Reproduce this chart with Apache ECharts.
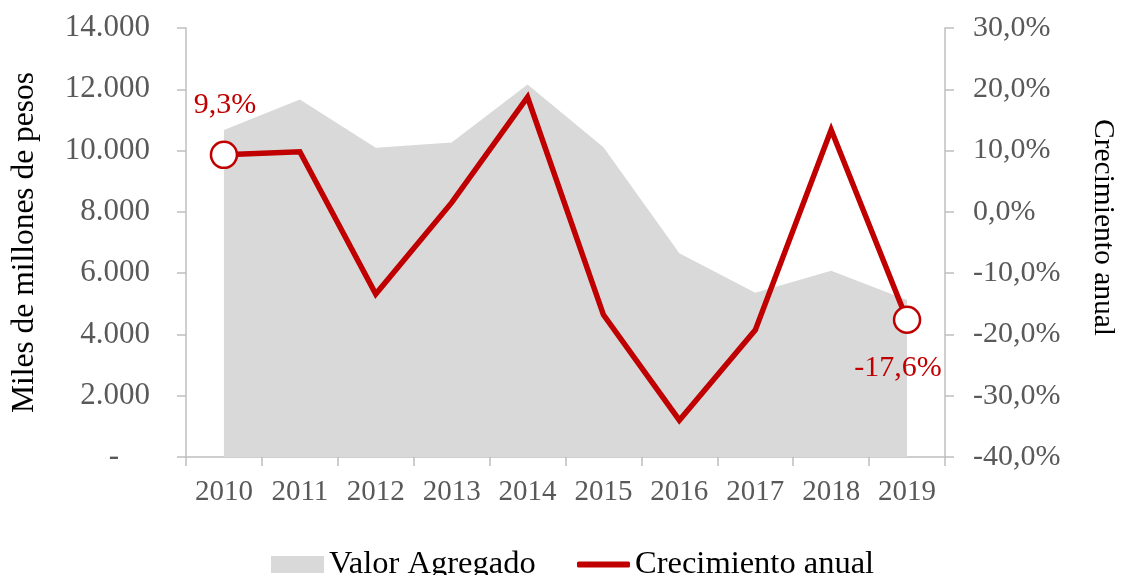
<!DOCTYPE html>
<html>
<head>
<meta charset="utf-8">
<script src="https://cdn.jsdelivr.net/npm/echarts@6/dist/echarts.min.js"></script>
<style>
html,body{margin:0;padding:0;background:#fff;}
#chart{width:1122px;height:575px;}
</style>
</head>
<body>
<div id="chart"></div>
<script>
var categories = ['2010','2011','2012','2013','2014','2015','2016','2017','2018','2019'];
var valorAgregado = [10670, 11670, 10090, 10260, 12160, 10110, 6650, 5360, 6080, 5120];
var crecimientoAnual = [9.3, 9.8, -13.4, 1.5, 18.7, -16.8, -34.0, -19.3, 13.4, -17.6];
var leftTicks = {min: 0, max: 14000, interval: 2000};
var rightTicks = {min: -40, max: 30, interval: 10};

var FONT = "'Liberation Serif', 'Times New Roman', serif";
var RED = '#c00000';
var AXIS = '#bfbfbf';
var LABEL = '#595959';

function pct(v){ return v.toFixed(1).replace('.', ',') + '%'; }
function thousands(v){
  if (v === 0) return '-\u2002\u2002';
  return String(v).replace(/\B(?=(\d{3})+(?!\d))/g, '.');
}

var lineData = crecimientoAnual.map(function(v, i){
  var last = crecimientoAnual.length - 1;
  if (i === 0 || i === last) {
    return {
      value: v,
      symbol: 'circle',
      symbolSize: 26,
      itemStyle: {color: '#ffffff', borderColor: RED, borderWidth: 2.5},
      label: {
        show: true,
        position: i === 0 ? 'top' : 'bottom',
        distance: i === 0 ? 20 : 19,
        offset: i === 0 ? [1, 0] : [-9, 0],
        formatter: function(p){ return pct(p.value); },
        color: RED, fontFamily: FONT, fontSize: 30
      }
    };
  }
  return {value: v, symbol: 'none', symbolSize: 0};
});

var chart = echarts.init(document.getElementById('chart'), null, {renderer: 'canvas'});
chart.setOption({
  animation: false,
  backgroundColor: '#ffffff',
  textStyle: {fontFamily: FONT},
  grid: {left: 186, right: 177, top: 28, bottom: 118, containLabel: false, outerBoundsMode: 'none'},
  legend: [
    {
      data: [{name: 'Valor Agregado', icon: 'rect', itemStyle: {color: '#d9d9d9'}}],
      left: 271, top: 548, itemWidth: 53, itemHeight: 17, padding: 0,
      textStyle: {fontFamily: FONT, fontSize: 32.5, color: '#000'}
    },
    {
      data: [{name: 'Crecimiento anual', icon: 'roundRect', itemStyle: {color: RED, borderWidth: 0}}],
      left: 577, top: 548, itemWidth: 53, itemHeight: 6, padding: 0,
      textStyle: {fontFamily: FONT, fontSize: 32.5, color: '#000'}
    }
  ],
  xAxis: {
    type: 'category',
    data: categories,
    boundaryGap: true,
    axisLine: {show: true, lineStyle: {color: AXIS, width: 1.5}},
    axisTick: {show: true, length: 9, interval: 0, lineStyle: {color: AXIS, width: 1.5}},
    axisLabel: {color: LABEL, fontFamily: FONT, fontSize: 29, margin: 21, interval: 0},
    splitLine: {show: false}
  },
  yAxis: [
    {
      type: 'value',
      position: 'left',
      min: leftTicks.min, max: leftTicks.max, interval: leftTicks.interval,
      name: 'Miles de millones de pesos',
      nameLocation: 'middle',
      nameGap: 145,
      nameRotate: 90,
      nameTextStyle: {color: '#000', fontFamily: FONT, fontSize: 31.5},
      axisLine: {show: true, lineStyle: {color: AXIS, width: 1.5}},
      axisTick: {show: true, length: 9, lineStyle: {color: AXIS, width: 1.5}},
      axisLabel: {color: LABEL, fontFamily: FONT, fontSize: 31, margin: 36, formatter: thousands},
      splitLine: {show: false}
    },
    {
      type: 'value',
      position: 'right',
      min: rightTicks.min, max: rightTicks.max, interval: rightTicks.interval,
      name: 'Crecimiento anual',
      nameLocation: 'middle',
      nameGap: 143,
      nameRotate: -90,
      nameTextStyle: {color: '#000', fontFamily: FONT, fontSize: 29.5, padding: [0, 30, 0, 0]},
      axisLine: {show: true, lineStyle: {color: AXIS, width: 1.5}},
      axisTick: {show: true, length: 9, lineStyle: {color: AXIS, width: 1.5}},
      axisLabel: {color: LABEL, fontFamily: FONT, fontSize: 30, margin: 28, formatter: function(v){ return pct(v); }},
      splitLine: {show: false}
    }
  ],
  series: [
    {
      name: 'Valor Agregado',
      type: 'line',
      yAxisIndex: 0,
      data: valorAgregado,
      symbol: 'none',
      lineStyle: {width: 0, color: '#d9d9d9'},
      itemStyle: {color: '#d9d9d9'},
      areaStyle: {color: '#d9d9d9', opacity: 1},
      z: 1
    },
    {
      name: 'Crecimiento anual',
      type: 'line',
      yAxisIndex: 1,
      data: lineData,
      showSymbol: true,
      lineStyle: {width: 5.5, color: RED, join: 'miter'},
      itemStyle: {color: RED},
      z: 3
    }
  ]
});
</script>
</body>
</html>
